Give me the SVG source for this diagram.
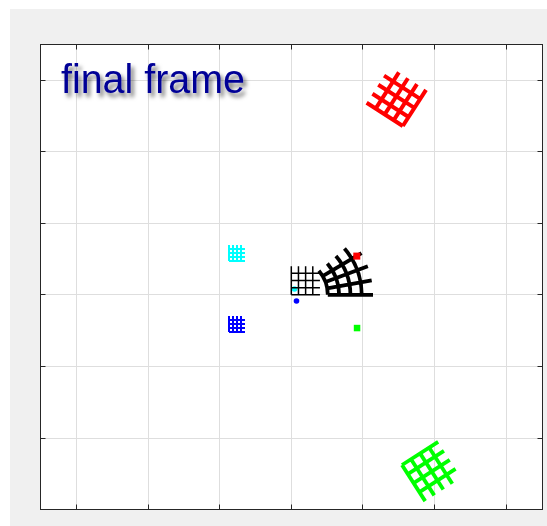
<svg xmlns="http://www.w3.org/2000/svg" width="547" height="526" viewBox="0 0 547 526">
<defs>
<style>
.grid{stroke:#dedede;stroke-width:1;fill:none}
.tick{stroke:#262626;stroke-width:1;fill:none}
.thin{stroke:#000;stroke-width:1.5;fill:none}
.bold{stroke:#000;stroke-width:3.8;fill:none}
.red{stroke:#ff0000;stroke-width:4;fill:none}
.green{stroke:#00ff00;stroke-width:3.8;fill:none}
.cyan{stroke:#00ffff;stroke-width:2;fill:none}
.blue{stroke:#0000ff;stroke-width:2;fill:none}
.title{font-family:"Liberation Sans",Arial,sans-serif;font-size:41px;fill:#000096}
</style>
<filter id="shadow" x="-10%" y="-30%" width="130%" height="180%">
<feDropShadow dx="3" dy="4" stdDeviation="2.2" flood-color="#000" flood-opacity="0.55"/>
</filter>
</defs>
<rect x="0" y="0" width="547" height="526" fill="#ffffff"/>
<rect x="10" y="9" width="537" height="517" fill="#f0f0f0"/>
<g id="axes">
<rect x="40.5" y="44.5" width="502" height="465" fill="#ffffff"/>
<path class="grid" d="M76.5 44.5V509.5M148.5 44.5V509.5M219.5 44.5V509.5M291.5 44.5V509.5M362.5 44.5V509.5M434.5 44.5V509.5M506.5 44.5V509.5M40.5 80.5H542.5M40.5 151.5H542.5M40.5 223.5H542.5M40.5 294.5H542.5M40.5 366.5H542.5M40.5 438.5H542.5"/>
<rect class="tick" x="40.5" y="44.5" width="502" height="465"/>
<path class="tick" d="M76.5 44.5v5M148.5 44.5v5M219.5 44.5v5M291.5 44.5v5M362.5 44.5v5M434.5 44.5v5M506.5 44.5v5M76.5 509.5v-5M148.5 509.5v-5M219.5 509.5v-5M291.5 509.5v-5M362.5 509.5v-5M434.5 509.5v-5M506.5 509.5v-5M40.5 80.5h5M40.5 151.5h5M40.5 223.5h5M40.5 294.5h5M40.5 366.5h5M40.5 438.5h5M542.5 80.5h-5M542.5 151.5h-5M542.5 223.5h-5M542.5 294.5h-5M542.5 366.5h-5M542.5 438.5h-5"/>
</g>
<g id="title">
<text class="title" x="61" y="93" textLength="184" lengthAdjust="spacingAndGlyphs" filter="url(#shadow)">final frame</text>
</g>
<g id="cyan-grid">
<path class="cyan" d="M229 261V245M233 261V245M237 261V245M241 261V245M229 261H245M229 257H245M229 253H245M229 249H245"/>
</g>
<g id="blue-grid">
<path class="blue" d="M229 332V316M233 332V316M237 332V316M241 332V316M229 332H245M229 328H245M229 324H245M229 320H245"/>
</g>
<g id="red-grid">
<path class="red" d="M402.8 126L366.65 102.79M408.6 116.96L372.45 93.75M414.41 107.92L378.26 84.71M420.21 98.89L384.06 75.68M402.8 126L426.01 89.85M393.76 120.2L416.97 84.05M384.72 114.39L407.93 78.24M375.69 108.59L398.9 72.44"/>
</g>
<g id="green-grid">
<path class="green" d="M402 465L438.15 441.79M407.8 474.04L443.95 450.83M413.61 483.08L449.76 459.87M419.41 492.11L455.56 468.9M402 465L425.21 501.15M411.04 459.2L434.25 495.35M420.08 453.39L443.29 489.54M429.11 447.59L452.32 483.74"/>
</g>
<g id="cyan-dot">
<circle cx="294.5" cy="289" r="2.8" fill="#00ffff"/>
</g>
<g id="thin-grid">
<path class="thin" d="M291.3 294.8V266.16M298.46 294.8V266.16M305.62 294.8V266.16M312.78 294.8V266.16M291.3 294.8H319.94M291.3 287.64H319.94M291.3 280.48H319.94M291.3 273.32H319.94"/>
</g>
<g id="warped-grid">
<path class="bold" d="M327.8 294.8A36.5 36.5 0 0 0 318.85 270.85M339.1 294.8A47.8 47.8 0 0 0 327.37 263.44M350.4 294.8A59.1 59.1 0 0 0 335.9 256.02M361.7 294.8A70.4 70.4 0 0 0 344.43 248.61M327.8 294.8L373 294.8M327.22 288.31L371.69 280.27M325.49 282.02L367.83 266.19M322.67 276.14L361.51 253.03"/>
</g>
<g id="markers">
<rect x="353.3" y="252.6" width="7" height="7" fill="#ff0000"/>
<rect x="353.8" y="324.8" width="6.5" height="6.5" fill="#00ff00"/>
<circle cx="296.5" cy="301" r="2.8" fill="#0000ff"/>
</g>
<g id="connectors"/>
</svg>
